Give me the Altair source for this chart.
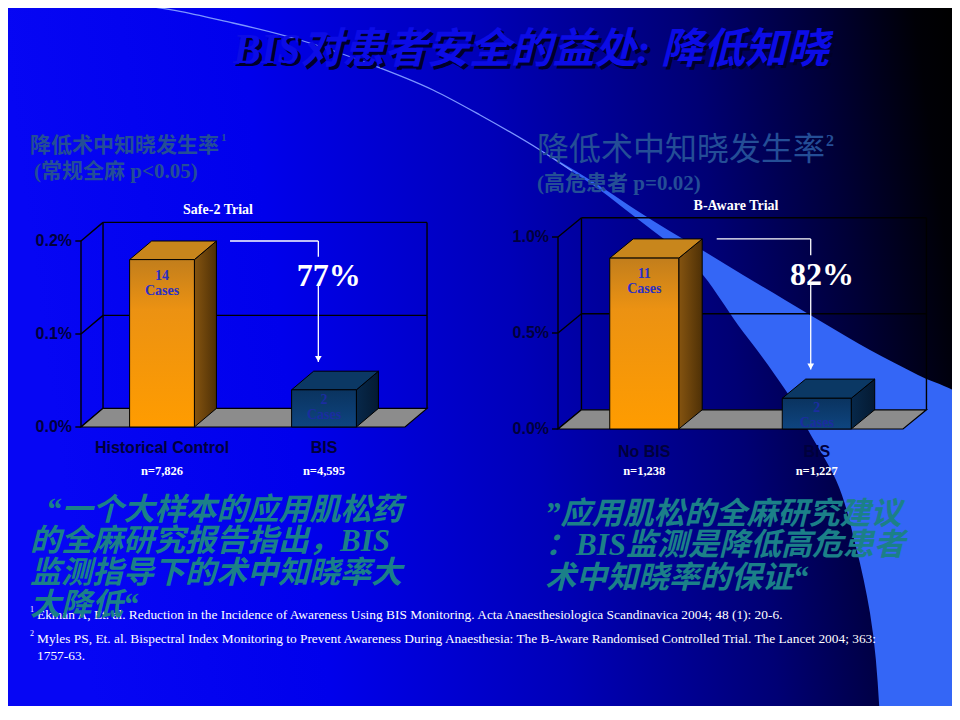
import altair as alt
import pandas as pd

# ---------------- content ----------------
TITLE = "BIS对患者安全的益处: 降低知晓"

LEFT_HEADING = "降低术中知晓发生率"
LEFT_HEADING_NOTE = "1"
LEFT_SUBHEADING = "(常规全麻 p<0.05)"
RIGHT_HEADING = "降低术中知晓发生率"
RIGHT_HEADING_NOTE = "2"
RIGHT_SUBHEADING = "(高危患者 p=0.02)"

LEFT_TRIAL = "Safe-2 Trial"
LEFT_CATEGORIES = ["Historical Control", "BIS"]
LEFT_RATES = [0.18, 0.04]          # awareness incidence, %
LEFT_CASES = ["14", "2"]
LEFT_N = ["n=7,826", "n=4,595"]
LEFT_TICKS = [0.0, 0.1, 0.2]
LEFT_TICK_LABELS = ["0.0%", "0.1%", "0.2%"]
LEFT_REDUCTION = "77%"

RIGHT_TRIAL = "B-Aware Trial"
RIGHT_CATEGORIES = ["No BIS", "BIS"]
RIGHT_RATES = [0.89, 0.16]         # awareness incidence, %
RIGHT_CASES = ["11", "2"]
RIGHT_N = ["n=1,238", "n=1,227"]
RIGHT_TICKS = [0.0, 0.5, 1.0]
RIGHT_TICK_LABELS = ["0.0%", "0.5%", "1.0%"]
RIGHT_REDUCTION = "82%"

LEFT_QUOTE = ["“一个大样本的应用肌松药", "的全麻研究报告指出，BIS", "监测指导下的术中知晓率大", "大降低“"]
RIGHT_QUOTE = ["”应用肌松的全麻研究建议", "：BIS监测是降低高危患者", "术中知晓率的保证“"]

FOOTNOTE_MARKS = ["1", "2", ""]
FOOTNOTES = [
    "Ekman A, Et. al. Reduction in the Incidence of Awareness Using BIS Monitoring. Acta Anaesthesiologica Scandinavica 2004; 48 (1): 20-6.",
    "Myles PS, Et. al. Bispectral Index Monitoring to Prevent Awareness During Anaesthesia: The B-Aware Randomised Controlled Trial. The Lancet 2004; 363:",
    " 1757-63.",
]

# decorative swoosh of the slide template (slide pixels)
ARC_X = [0, 133, 233, 300, 367, 433, 480, 540, 572]
ARC_Y = [1, 5, 23, 40, 63, 90, 115, 150, 171]
SWOOSH_Y = [150, 170, 190, 210, 230, 250, 275, 300, 325, 350, 375, 397, 430, 480, 547, 613, 720]
SWOOSH_LEFT = [540, 570, 600, 626, 652, 678, 703, 721, 738, 757, 775, 790, 808, 836, 856, 870, 880]
SWOOSH_RIGHT = [540, 574, 606, 636, 668, 702, 743, 785, 827, 870, 918, 960, 960, 960, 960, 960, 960]

# ---------------- layout ----------------
W, H = 944, 698
M = 8  # page margin: slide pixel p is drawn at chart pixel p - M


def px(v):
    return v - M


PIX_X = alt.Scale(domain=[0, 960], range=[-M, 960 - M], nice=False, zero=False)
PIX_Y = alt.Scale(domain=[0, 720], range=[-M, 720 - M], nice=False, zero=False)

LEFT_FRAME = dict(x0=81, x1=405, y0=427, y1=241, ymax=0.2)
RIGHT_FRAME = dict(x0=558, x1=903, y0=429, y1=237, ymax=1.0)
DEPTH_X = 0.136      # in category slots
DEPTH_Y = 0.1        # fraction of the y-domain

NAVY = "#00003C"
SANS = "Liberation Sans"
SERIF = "Liberation Serif"
CJK = "Noto Sans CJK SC"
MIXED = "Liberation Serif, Noto Sans CJK SC"


def grad(stops, x1=0, y1=0, x2=0, y2=1):
    return alt.LinearGradient(
        gradient="linear", x1=x1, y1=y1, x2=x2, y2=y2,
        stops=[alt.GradientStop(offset=o, color=c) for o, c in stops],
    )


BG = grad([(0.0, "#0606F4"), (0.25, "#0000EC"), (0.5, "#0000B8"), (0.72, "#000074"),
           (0.86, "#000036"), (0.96, "#000006"), (1.0, "#000000")], x1=0, y1=0.1, x2=1, y2=0)

BAR_STYLES = [
    dict(front=grad([(0, "#C27E1C"), (0.3, "#EC9212"), (1, "#FF9C00")]),
         side=grad([(0, "#855410"), (1, "#4E3006")], x2=1, y2=0),
         top="#C8861C", text="#2B2FC4", dy=9),
    dict(front=grad([(0, "#0A335F"), (1, "#0E4580")]),
         side=grad([(0, "#07284A"), (1, "#041A32")], x2=1, y2=0),
         top="#0B3864", text="#1B2DA0", dy=3),
]


def panel(cats, rates, cases, ns, ticks, tick_labels, reduction, frame, cat_y, n_y):
    ymax = frame["ymax"]
    xs = alt.Scale(domain=[0, 2], range=[px(frame["x0"]), px(frame["x1"])], nice=False, zero=False)
    ys = alt.Scale(domain=[0, ymax], range=[px(frame["y0"]), px(frame["y1"])], nice=False, zero=False)
    dx, dy = DEPTH_X, DEPTH_Y * ymax

    def X(f):
        return alt.X(f + ":Q", scale=xs, axis=None)

    def Y(f):
        return alt.Y(f + ":Q", scale=ys, axis=None)

    layers = []

    # 3-D frame: back wall, side wall, gridlines, front axis
    rows = [dict(x=dx, y=dy, x2=dx, y2=ymax + dy), dict(x=2 + dx, y=dy, x2=2 + dx, y2=ymax + dy)]
    rows += [dict(x=dx, y=t + dy, x2=2 + dx, y2=t + dy) for t in ticks[1:]]
    rows += [dict(x=0, y=t, x2=dx, y2=t + dy) for t in ticks]
    rows += [dict(x=0, y=t, x2=-0.035, y2=t) for t in ticks]
    rows.append(dict(x=0, y=0, x2=0, y2=ymax))
    layers.append(alt.Chart(pd.DataFrame(rows)).mark_rule(color="black", strokeWidth=1.4).encode(
        x=X("x"), y=Y("y"), x2="x2:Q", y2="y2:Q"))

    # floor
    floor = pd.DataFrame({"y": [0, dy], "x": [0, dx], "x2": [2, 2 + dx]})
    layers.append(alt.Chart(floor).mark_area(orient="horizontal", fill="#8C8C8C", stroke="black",
                                             strokeWidth=1.2).encode(y=Y("y"), x=X("x"), x2="x2:Q"))

    # 3-D bars
    for i, st in enumerate(BAR_STYLES):
        v = rates[i]
        side = pd.DataFrame({"x": [i + 0.7, i + 0.7 + dx], "y": [v, v + dy], "y2": [0, dy]})
        layers.append(alt.Chart(side).mark_area(orient="vertical", fill=st["side"], stroke="black",
                                                strokeWidth=1).encode(x=X("x"), y=Y("y"), y2="y2:Q"))
        top = pd.DataFrame({"y": [v, v + dy], "x": [i + 0.3, i + 0.3 + dx], "x2": [i + 0.7, i + 0.7 + dx]})
        layers.append(alt.Chart(top).mark_area(orient="horizontal", fill=st["top"], stroke="black",
                                               strokeWidth=1).encode(y=Y("y"), x=X("x"), x2="x2:Q"))
        front = pd.DataFrame({"x": [i + 0.3], "x2": [i + 0.7], "y": [0], "y2": [v]})
        layers.append(alt.Chart(front).mark_rect(fill=st["front"], stroke="black", strokeWidth=1).encode(
            x=X("x"), x2="x2:Q", y=Y("y"), y2="y2:Q"))
        lab = pd.DataFrame({"x": [i + 0.5], "y": [v], "t": [cases[i] + "\nCases"]})
        layers.append(alt.Chart(lab).mark_text(
            lineBreak="\n", lineHeight=15, baseline="top", dy=st["dy"], font=SERIF, fontWeight="bold",
            fontSize=14, color=st["text"]).encode(x=X("x"), y=Y("y"), text="t:N"))

    # tick labels
    tk = pd.DataFrame({"x": [0] * len(ticks), "y": ticks, "t": tick_labels})
    layers.append(alt.Chart(tk).mark_text(align="right", baseline="middle", dx=-9, font=SANS,
                                          fontWeight="bold", fontSize=16, color=NAVY).encode(
        x=X("x"), y=Y("y"), text="t:N"))

    # category and sample-size labels
    cl = pd.DataFrame({"x": [0.5, 1.5], "c": cats, "n": ns})
    layers.append(alt.Chart(cl).mark_text(baseline="middle", font=SANS, fontWeight="bold", fontSize=16,
                                          color=NAVY).encode(x=X("x"), y=alt.value(px(cat_y)), text="c:N"))
    layers.append(alt.Chart(cl).mark_text(baseline="middle", font=SERIF, fontWeight="bold", fontSize=12.5,
                                          color="white").encode(x=X("x"), y=alt.value(px(n_y)), text="n:N"))

    # reduction arrow
    top_y = rates[0] + dy
    end_y = rates[1] + dy + 0.05 * ymax
    ax = 1.465
    arr = pd.DataFrame([
        dict(x=0.92, y=top_y, x2=ax, y2=top_y),
        dict(x=ax, y=top_y, x2=ax, y2=top_y - 0.085 * ymax),
        dict(x=ax, y=top_y - 0.23 * ymax, x2=ax, y2=end_y),
    ])
    layers.append(alt.Chart(arr).mark_rule(color="white", strokeWidth=1.3).encode(
        x=X("x"), y=Y("y"), x2="x2:Q", y2="y2:Q"))
    head = pd.DataFrame({"x": [ax], "y": [end_y]})
    layers.append(alt.Chart(head).mark_point(shape="triangle-down", filled=True, color="white", opacity=1,
                                             size=45, yOffset=-3).encode(x=X("x"), y=Y("y")))
    red = pd.DataFrame({"x": [1.53], "y": [top_y - 0.19 * ymax], "t": [reduction]})
    layers.append(alt.Chart(red).mark_text(baseline="middle", font=SERIF, fontWeight="bold", fontSize=32,
                                           color="white").encode(x=X("x"), y=Y("y"), text="t:N"))
    return alt.layer(*layers)


def text_at(x, y, t, **kw):
    return alt.Chart(pd.DataFrame({"t": [t]})).mark_text(**kw).encode(
        x=alt.value(px(x)), y=alt.value(px(y)), text="t:N")


def text_rows(xs_, ys_, ts, **kw):
    df = pd.DataFrame({"x": [px(v) for v in xs_], "y": [px(v) for v in ys_], "t": ts})
    return alt.Chart(df).mark_text(**kw).encode(
        x=alt.X("x:Q", scale=None), y=alt.Y("y:Q", scale=None), text="t:N")


# ---------------- background ----------------
bg = alt.Chart(pd.DataFrame({"k": [0]})).mark_rect(fill=BG).encode(
    x=alt.value(0), x2=alt.value(W), y=alt.value(0), y2=alt.value(H))
swoosh = alt.Chart(pd.DataFrame({"y": SWOOSH_Y, "l": SWOOSH_LEFT, "r": SWOOSH_RIGHT})).mark_area(
    orient="horizontal", interpolate="monotone", fill="#3466F6").encode(
    y=alt.Y("y:Q", scale=PIX_Y, axis=None), x=alt.X("l:Q", scale=PIX_X, axis=None), x2="r:Q")
arc = alt.Chart(pd.DataFrame({"x": ARC_X, "y": ARC_Y})).mark_line(
    color="#7C95FF", strokeWidth=1.3, interpolate="monotone").encode(
    x=alt.X("x:Q", scale=PIX_X, axis=None), y=alt.Y("y:Q", scale=PIX_Y, axis=None))
deco = alt.layer(bg, swoosh, arc)

# ---------------- texts ----------------
title_kw = dict(align="center", baseline="middle", font=MIXED, fontSize=42, fontWeight="bold", fontStyle="italic")
title_shadow = text_at(534, 53, TITLE, color="#00002A", **title_kw)
title = text_at(531, 50, TITLE, color="#0C0CE6", **title_kw)

HEAD = "#244E96"
heads = [
    text_at(30, 146, LEFT_HEADING, align="left", baseline="middle", font=CJK, fontWeight="bold", fontSize=21, color=HEAD),
    text_at(221, 138, LEFT_HEADING_NOTE, align="left", baseline="middle", font=SERIF, fontWeight="bold", fontSize=11, color=HEAD),
    text_at(34, 172, LEFT_SUBHEADING, align="left", baseline="middle", font=MIXED, fontWeight="bold", fontSize=21, color=HEAD),
    text_at(537, 150, RIGHT_HEADING, align="left", baseline="middle", font=CJK, fontWeight="normal", fontSize=32, color=HEAD),
    text_at(826, 141, RIGHT_HEADING_NOTE, align="left", baseline="middle", font=SERIF, fontWeight="bold", fontSize=16, color=HEAD),
    text_at(537, 184, RIGHT_SUBHEADING, align="left", baseline="middle", font=MIXED, fontWeight="bold", fontSize=21, color=HEAD),
    text_at(218, 210, LEFT_TRIAL, align="center", baseline="middle", font=SERIF, fontWeight="bold", fontSize=14, color="white"),
    text_at(736, 206, RIGHT_TRIAL, align="center", baseline="middle", font=SERIF, fontWeight="bold", fontSize=14, color="white"),
]

left_panel = panel(LEFT_CATEGORIES, LEFT_RATES, LEFT_CASES, LEFT_N, LEFT_TICKS, LEFT_TICK_LABELS,
                   LEFT_REDUCTION, LEFT_FRAME, 448, 471)
right_panel = panel(RIGHT_CATEGORIES, RIGHT_RATES, RIGHT_CASES, RIGHT_N, RIGHT_TICKS, RIGHT_TICK_LABELS,
                    RIGHT_REDUCTION, RIGHT_FRAME, 452, 471)

foot_kw = dict(align="left", baseline="middle", font=SERIF, color="white")
footnotes = text_rows([37, 37, 37], [615, 639, 656], FOOTNOTES, fontSize=13.4, **foot_kw)
footmarks = text_rows([30, 30, 30], [610, 634, 651], FOOTNOTE_MARKS, fontSize=8, **foot_kw)

QUOTE = "#1B8088"
quote_kw = dict(align="left", baseline="middle", font=MIXED, fontSize=31, fontWeight="bold",
                fontStyle="italic", color=QUOTE)
left_quote = text_rows([46, 30, 30, 30], [511, 542, 574, 606], LEFT_QUOTE, **quote_kw)
right_quote = text_rows([545, 545, 545], [515, 546, 579], RIGHT_QUOTE, **quote_kw)

chart = alt.layer(
    deco, title_shadow, title, *heads, left_panel, right_panel, footnotes, footmarks, left_quote, right_quote
).resolve_scale(x="independent", y="independent").properties(
    width=W, height=H, padding=0, autosize=alt.AutoSizeParams(type="none")
).configure_view(strokeWidth=0)

chart.save("out.html", embed_options={"renderer": "svg", "actions": False})
